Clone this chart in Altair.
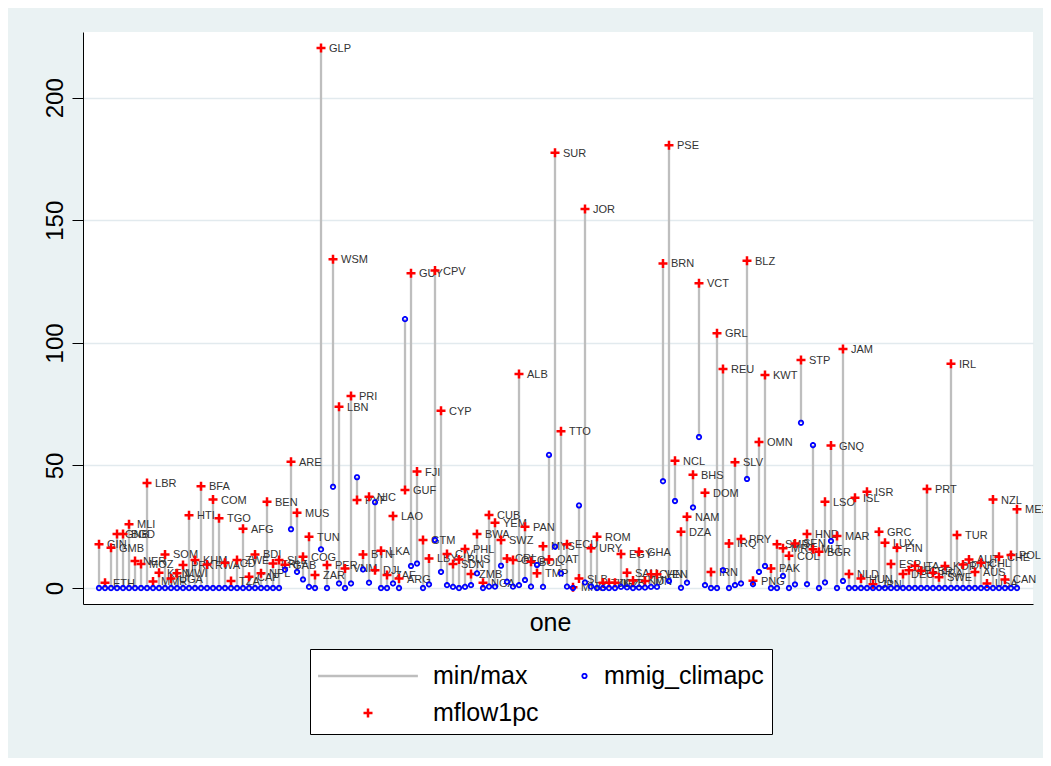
import math
import altair as alt
import pandas as pd

# ---------------- data ----------------
codes = [
    "GIN", "ETH", "GMB", "GNB", "BGD", "MLI", "NER", "MOZ", "LBR", "MMR",
    "KEN", "SOM", "UGA", "MWI", "PRK", "HTI", "KHM", "BFA", "RWA", "COM",
    "TGO", "TCD", "TZA", "ZWE", "AFG", "CAF", "BDI", "NPL", "BEN", "ERI",
    "SLE", "GAB", "ARE", "MUS", "COG", "TUN", "ZAR", "GLP", "PER", "WSM",
    "LBN", "VNM", "PRI", "PYF", "BTN", "NIC", "DJI", "LKA", "ZAF", "LAO",
    "ARG", "GUF", "GUY", "FJI", "GTM", "LBY", "CPV", "CYP", "CIV", "SDN",
    "RUS", "PHL", "ZMB", "BWA", "NGA", "CUB", "YEM", "SWZ", "CRI", "GEO",
    "ALB", "PAN", "BOL", "TMP", "MYS", "QAT", "SUR", "TTO", "ECU", "MNG",
    "SLB", "JOR", "URY", "ROM", "TJK", "KGZ", "UZB", "EGY", "SAU", "TKM",
    "GHA", "IDN", "CHN", "VEN", "BRN", "PSE", "NCL", "DZA", "NAM", "BHS",
    "VCT", "DOM", "IRN", "GRL", "REU", "IRQ", "SLV", "PRY", "BLZ", "PNG",
    "OMN", "KWT", "PAK", "SMR", "MRT", "COL", "SEN", "STP", "HND", "MLT",
    "BGR", "LSO", "GNQ", "MAR", "JAM", "NLD", "ISL", "HUN", "ISR", "JPN",
    "GRC", "LUX", "ESP", "FIN", "DEU", "BEL", "ITA", "GBR", "PRT", "FRA",
    "SWE", "KOR", "IRL", "TUR", "DNK", "AUT", "AUS", "CHL", "USA", "NZL",
    "CHE", "CAN", "POL", "MEX",
]

mflow1pc = [
    17.9, 2.2, 16.4, 22.0, 22.0, 26.0, 11.0, 9.8, 42.9, 2.7,
    6.2, 13.7, 3.9, 6.0, 9.4, 29.7, 11.4, 41.5, 9.6, 36.1,
    28.5, 10.3, 2.9, 11.4, 24.2, 4.6, 13.7, 6.0, 35.2, 10.0,
    11.4, 9.5, 51.5, 30.7, 12.8, 20.9, 5.3, 220.3, 9.4, 134.1,
    74.0, 8.0, 78.3, 35.9, 13.7, 37.2, 7.3, 15.2, 5.3, 29.4,
    3.9, 40.0, 128.4, 47.5, 19.6, 12.1, 129.5, 72.3, 13.9, 9.8,
    11.7, 15.9, 5.7, 22.1, 2.2, 29.8, 26.6, 19.6, 12.1, 11.4,
    87.3, 25.0, 10.7, 6.0, 17.1, 11.7, 177.6, 64.0, 17.9, 0.3,
    3.9, 154.6, 16.2, 20.9, 2.2, 2.2, 2.2, 13.9, 6.2, 3.1,
    14.8, 2.9, 5.6, 5.6, 132.4, 180.6, 51.9, 23.0, 29.1, 46.2,
    124.3, 38.9, 6.6, 103.9, 89.3, 18.2, 51.3, 20.0, 133.5, 3.0,
    59.6, 86.9, 8.0, 17.9, 16.2, 13.2, 18.2, 93.0, 22.0, 15.8,
    14.8, 35.2, 58.1, 21.2, 97.5, 5.7, 36.8, 3.9, 39.3, 1.6,
    23.0, 18.5, 9.8, 16.4, 5.7, 7.3, 9.1, 7.1, 40.4, 6.2,
    4.4, 9.0, 91.5, 21.6, 9.6, 11.7, 6.6, 10.3, 1.9, 36.1,
    12.8, 3.5, 13.5, 32.1,
]

mmig_climapc = [
    0, 0, 0, 0, 0, 0, 0, 0, 0, 0,
    0, 0, 0, 0, 0, 0, 0, 0, 0, 0,
    0, 0, 0, 0, 0, 0, 0, 0, 0, 0,
    0, 7.5, 24.0, 6.6, 3.5, 0.5, 0, 15.8, 0, 41.3,
    1.9, 0, 1.9, 45.2, 7.6, 2.2, 35.0, 0, 0, 1.9,
    0, 109.7, 9.0, 10.0, 0, 1.5, 19.6, 6.6, 1.2, 0.5,
    0, 0.5, 1.2, 6.0, 0, 0.6, 0.6, 9.1, 2.6, 0.6,
    1.2, 3.3, 0.6, 9.4, 0.5, 54.3, 16.9, 6.0, 0.6, 0,
    33.7, 2.3, 0.6, 0, 0, 0, 0, 0.5, 0.3, 0,
    0.2, 0.2, 0.5, 0.5, 43.6, 2.9, 35.5, 0.1, 2.2, 32.9,
    61.6, 1.2, 0, 0, 7.3, 0, 1.2, 1.9, 44.5, 1.6,
    6.6, 9.0, 0, 0, 4.9, 0, 1.5, 67.4, 1.6, 58.3,
    0, 2.3, 19.2, 0, 2.9, 0, 0, 0, 0, 0,
    0, 0, 0, 0, 0, 0, 0, 0, 0, 0,
    0, 0, 0, 0, 0, 0, 0, 0, 0, 0,
    0, 0, 0, 0,
]

# legend entries (filled column by column: min/max, mflow1pc | mmig_climapc)
series_names = ["min/max", "mflow1pc", "mmig_climapc"]
series_colors = ["#BEBEBE", "#FF0000", "#0000FF"]
series_fills = ["#BEBEBE", "#FF0000", "transparent"]

# ---------------- tables ----------------
pos = list(range(len(codes)))
wide = pd.DataFrame({"one": pos, "code": codes,
                     "mflow1pc": mflow1pc, "mmig_climapc": mmig_climapc})
wide["lo"] = wide[["mflow1pc", "mmig_climapc"]].min(axis=1)
wide["hi"] = wide[["mflow1pc", "mmig_climapc"]].max(axis=1)

# legend-only table: no positions, so nothing is drawn in the plot
legend_tbl = pd.DataFrame({"series": series_names,
                           "one": [None] * len(series_names),
                           "value": [None] * len(series_names)})

# ---------------- symbol shapes ----------------
SPAN = 98.0          # symbol box (px) for the plotted markers
HALF = SPAN / 2.0
LSPAN = 36.0         # symbol box (px) for the legend entries
LHALF = LSPAN / 2.0


def ring_path(r_px, half, dx_px=0.0, n=24):
    pts = [((dx_px + r_px * math.cos(2 * math.pi * k / n)) / half,
            (r_px * math.sin(2 * math.pi * k / n)) / half) for k in range(n)]
    return "M" + "L".join(f"{x:.5f},{y:.5f}" for x, y in pts) + "Z"


def plus_path(a_px, t_px, half, dx_px=0.0):
    pts = [(-a_px, -t_px), (-t_px, -t_px), (-t_px, -a_px), (t_px, -a_px),
           (t_px, -t_px), (a_px, -t_px), (a_px, t_px), (t_px, t_px),
           (t_px, a_px), (-t_px, a_px), (-t_px, t_px), (-a_px, t_px)]
    return "M" + "L".join(f"{(x + dx_px) / half:.5f},{y / half:.5f}"
                          for x, y in pts) + "Z"


def bar_path(x0_px, x1_px, t_px, half):
    a, b, t = x0_px / half, x1_px / half, t_px / half
    return f"M{a:.5f},{-t:.5f}L{b:.5f},{-t:.5f}L{b:.5f},{t:.5f}L{a:.5f},{t:.5f}Z"


cross_shape = plus_path(3.6, 0.35, HALF)
ring_shape = ring_path(2.2, HALF)
legend_shapes = [bar_path(-68.0, 30.0, 0.4, LHALF),
                 plus_path(3.6, 0.35, LHALF, dx_px=-19.0),
                 ring_path(2.2, LHALF, dx_px=26.5)]

FONT = "Liberation Sans"
GRID = "#E2EAEE"

# a tiny blank title on the left widens the legend box so it encloses the line
leg = alt.Legend(title=" ", titleOrient="left", titleFontSize=1,
                 titlePadding=50,
                 orient="none", legendX=227, legendY=617,
                 columns=2, padding=8, labelOffset=27,
                 labelFontSize=25, labelFont=FONT, labelColor="black",
                 fillColor="white", strokeColor="black",
                 columnPadding=0, rowPadding=5, symbolOffset=0,
                 symbolSize=LSPAN * LSPAN, symbolStrokeWidth=1.8)

x_enc = alt.X("one:Q", title="one",
              scale=alt.Scale(domain=[-2.67, 155.67], nice=False, zero=False),
              axis=alt.Axis(labels=False, ticks=False, grid=False,
                            domainColor="black", domainWidth=1,
                            titleFontSize=25, titleFont=FONT,
                            titleFontWeight="normal", titleColor="black",
                            titlePadding=6, titleX=467))

y_scale = alt.Scale(domain=[-6.5, 226.8], nice=False, zero=False)
y_axis = alt.Axis(values=[0, 50, 100, 150, 200], title=None,
                  labelAngle=270, labelAlign="center", labelBaseline="bottom",
                  labelPadding=5, labelFontSize=24, labelFont=FONT,
                  labelColor="black", tickSize=11, tickColor="black",
                  tickWidth=1, domainColor="black", domainWidth=1,
                  grid=True, gridColor=GRID, gridWidth=1.5)


def y_of(field):
    return alt.Y(f"{field}:Q", scale=y_scale, axis=y_axis, title=None)


rules = alt.Chart(wide).mark_rule(color="#BEBEBE", strokeWidth=2.3).encode(
    x=x_enc, y=y_of("lo"), y2="hi:Q",
)

labels = alt.Chart(wide).mark_text(
    align="left", baseline="middle", dx=8, dy=1, fontSize=11, font=FONT,
    color="#333333",
).encode(x=x_enc, y=y_of("mflow1pc"), text="code:N")

red = alt.Chart(wide).mark_point(
    shape=cross_shape, size=SPAN * SPAN, opacity=1,
    fill="#FF0000", stroke="#FF0000", strokeWidth=1.8,
).encode(x=x_enc, y=y_of("mflow1pc"))

blue = alt.Chart(wide).mark_point(
    shape=ring_shape, size=SPAN * SPAN, opacity=1,
    fill="transparent", stroke="#0000FF", strokeWidth=1.8,
).encode(x=x_enc, y=y_of("mmig_climapc"))

legend_layer = alt.Chart(legend_tbl).mark_point(
    size=LSPAN * LSPAN, opacity=1, strokeWidth=1.8,
).encode(
    x=x_enc, y=y_of("value"),
    shape=alt.Shape("series:N", legend=leg,
                    scale=alt.Scale(domain=series_names, range=legend_shapes)),
    stroke=alt.Stroke("series:N", legend=leg,
                      scale=alt.Scale(domain=series_names, range=series_colors)),
    fill=alt.Fill("series:N", legend=leg,
                  scale=alt.Scale(domain=series_names, range=series_fills)),
)

chart = alt.layer(rules, labels, red, blue, legend_layer).properties(
    width=950, height=572,
    padding={"left": 75, "top": 24, "right": 10, "bottom": 154},
    autosize=alt.AutoSizeParams(type="none"),
    background="#EAF2F3",
).configure_view(
    fill="white", strokeWidth=0,
)

chart.save("out.html", embed_options={"renderer": "svg", "actions": False})
